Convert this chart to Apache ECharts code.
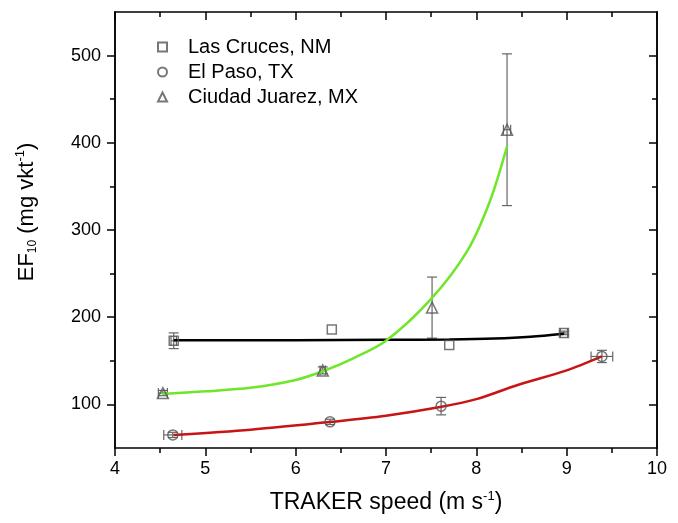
<!DOCTYPE html>
<html>
<head>
<meta charset="utf-8">
<script src="https://cdn.jsdelivr.net/npm/echarts@6/dist/echarts.min.js"></script>
<style>
  html, body { margin: 0; padding: 0; background: #fff; }
  #main { width: 678px; height: 523px; }
</style>
</head>
<body>
<div id="main"></div>
<script>
// measured points: [speed, EF10, xErr, yErr]
var lasCruces = [[4.65, 173, 0.03, 9], [6.4, 186, 0, 0], [7.7, 168, 0, 0], [8.97, 182, 0.04, 2]];
var elPaso = [[4.64, 65, 0.1, 3], [6.38, 80, 0, 3], [7.61, 98, 0, 10], [9.39, 155, 0.12, 7]];
var juarez = [[4.53, 113, 0.05, 3], [6.3, 139, 0.03, 4], [7.51, 211, 0, 35], [8.34, 415, 0.04, 87]];

// fit curves
var fitLasCruces = [[4.65, 173.5], [6, 173.6], [7, 174], [7.7, 174.5], [8.2, 175.5], [8.6, 177.5], [8.97, 181]];
var fitElPaso = [[4.65, 65], [5.5, 71], [6.4, 80], [7, 87], [7.6, 97], [8, 106], [8.45, 122], [9, 139], [9.39, 155]];
var fitJuarez = [[4.52, 112], [5, 115], [5.5, 119], [6, 128], [6.3, 138], [6.6, 151], [7, 173], [7.5, 221], [7.9, 276], [8.15, 333], [8.34, 396]];

var yMajor = [100, 200, 300, 400, 500];
var yMinor = [150, 250, 350, 450];

var myChart = echarts.init(document.getElementById('main'));

var markerStyle = { color: 'rgba(255,255,255,0)', borderColor: '#555', borderWidth: 1.5 };
var font = 'Liberation Sans, Arial, sans-serif';

function errorBars(api) {
    var x = api.value(0), y = api.value(1), ex = api.value(2), ey = api.value(3);
    var children = [];
    var cap = 5;
    var style = { stroke: '#666', lineWidth: 1.2 };
    if (ey > 0) {
        var top = api.coord([x, y + ey]), bot = api.coord([x, y - ey]);
        children.push({ type: 'line', shape: { x1: top[0], y1: top[1], x2: bot[0], y2: bot[1] }, style: style });
        children.push({ type: 'line', shape: { x1: top[0] - cap, y1: top[1], x2: top[0] + cap, y2: top[1] }, style: style });
        children.push({ type: 'line', shape: { x1: bot[0] - cap, y1: bot[1], x2: bot[0] + cap, y2: bot[1] }, style: style });
    }
    if (ex > 0) {
        var l = api.coord([x - ex, y]), r = api.coord([x + ex, y]);
        children.push({ type: 'line', shape: { x1: l[0], y1: l[1], x2: r[0], y2: r[1] }, style: style });
        children.push({ type: 'line', shape: { x1: l[0], y1: l[1] - cap, x2: l[0], y2: l[1] + cap }, style: style });
        children.push({ type: 'line', shape: { x1: r[0], y1: r[1] - cap, x2: r[0], y2: r[1] + cap }, style: style });
    }
    return { type: 'group', children: children };
}

function yAx(pos, ticks, len, inside, labels) {
    return {
        type: 'value', position: pos, min: 50, max: 550,
        axisLine: { show: true, onZero: false, lineStyle: { color: '#000', width: 1.5 } },
        axisTick: { show: true, customValues: ticks, length: len, inside: inside, lineStyle: { color: '#000', width: 1.5 } },
        axisLabel: labels ? { customValues: yMajor, color: '#000', fontSize: 18, fontFamily: font, margin: 14 } : { show: false },
        splitLine: { show: false }
    };
}

var option = {
    animation: false,
    grid: { left: 115, right: 21, top: 12, bottom: 75 },
    legend: {
        orient: 'vertical', left: 152, top: 32, itemGap: 5,
        itemWidth: 9, itemHeight: 9,
        textStyle: { color: '#000', fontSize: 20, fontFamily: font, padding: [0, 0, 0, 16] },
        data: ['Las Cruces, NM', 'El Paso, TX', 'Ciudad Juarez, MX']
    },
    xAxis: [{
        type: 'value', min: 4, max: 10, interval: 1,
        name: 'TRAKER speed (m s{sup|-1})', nameLocation: 'middle', nameGap: 42,
        nameTextStyle: { color: '#000', fontSize: 23, fontFamily: font,
            rich: { sup: { fontSize: 13, verticalAlign: 'top', padding: [0, 0, 12, 0], fontFamily: font, color: '#000' } } },
        axisLine: { onZero: false, lineStyle: { color: '#000', width: 1.5 } },
        axisTick: { length: 8, lineStyle: { color: '#000', width: 1.5 } },
        minorTick: { show: true, splitNumber: 2, length: 5, lineStyle: { color: '#000', width: 1.5 } },
        axisLabel: { color: '#000', fontSize: 18, fontFamily: font, margin: 12 },
        splitLine: { show: false }
    }, {
        type: 'value', position: 'top', min: 4, max: 10, interval: 1,
        axisLine: { show: true, onZero: false, lineStyle: { color: '#000', width: 1.5 } },
        axisTick: { inside: true, length: 8, lineStyle: { color: '#000', width: 1.5 } },
        minorTick: { show: true, splitNumber: 2, length: 5, lineStyle: { color: '#000', width: 1.5 } },
        axisLabel: { show: false },
        splitLine: { show: false }
    }],
    yAxis: [
        Object.assign(yAx('left', yMajor, 8, false, true), {
            name: 'EF{sub|10} (mg vkt{sup|-1})', nameLocation: 'middle', nameGap: 76,
            nameTextStyle: { color: '#000', fontSize: 22, fontFamily: font, padding: [0, 0, 0, 36],
                rich: {
                    sub: { fontSize: 12, verticalAlign: 'bottom', padding: [10, 0, 0, 0], fontFamily: font, color: '#000' },
                    sup: { fontSize: 13, verticalAlign: 'top', padding: [0, 0, 12, 0], fontFamily: font, color: '#000' }
                } }
        }),
        yAx('left', yMinor, 5, false, false),
        yAx('right', yMajor, 8, true, false),
        yAx('right', yMinor, 5, true, false)
    ],
    series: [
        { type: 'line', data: fitLasCruces, smooth: 0.3, showSymbol: false, lineStyle: { color: '#000', width: 2.5 }, silent: true },
        { type: 'line', data: fitElPaso, smooth: 0.3, showSymbol: false, lineStyle: { color: '#c81414', width: 2.5 }, silent: true },
        { type: 'line', data: fitJuarez, smooth: 0.3, showSymbol: false, lineStyle: { color: '#6ee62a', width: 2.5 }, silent: true },
        { type: 'custom', data: lasCruces.concat(elPaso, juarez), renderItem: function (p, api) { return errorBars(api); }, silent: true, z: 3 },
        { name: 'Las Cruces, NM', type: 'scatter', data: lasCruces, symbol: 'rect', symbolSize: 9, itemStyle: markerStyle, z: 4 },
        { name: 'El Paso, TX', type: 'scatter', data: elPaso, symbol: 'circle', symbolSize: 10, itemStyle: markerStyle, z: 4 },
        { name: 'Ciudad Juarez, MX', type: 'scatter', data: juarez, symbol: 'triangle', symbolSize: 11, itemStyle: markerStyle, z: 4 }
    ]
};

myChart.setOption(option);
</script>
</body>
</html>
